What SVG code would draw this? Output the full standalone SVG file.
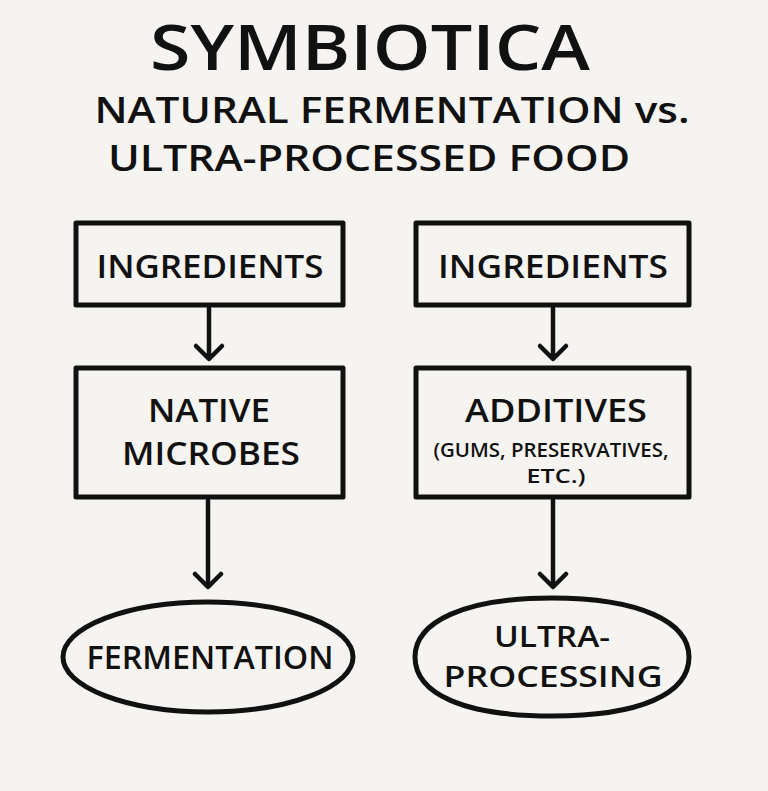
<svg xmlns="http://www.w3.org/2000/svg" width="768" height="791" viewBox="0 0 768 791">
<style>
.box{fill:none;stroke:#111;stroke-width:5;stroke-linejoin:round}
.con{fill:none;stroke:#111;stroke-width:4.5;stroke-linecap:round;stroke-linejoin:round}
text{font-family:"Open Sans","Liberation Sans",sans-serif;font-weight:600;fill:#111;text-anchor:middle}
.t1{font-size:33px}
.t3{font-size:29px}
.t2{font-size:19px}
</style>
<rect width="768" height="791" fill="#f6f4f0"/>
<g id="title">
<text x="370" y="70" font-size="64" font-weight="bold" textLength="440" lengthAdjust="spacingAndGlyphs">SYMBIOTICA</text>
<text x="392" y="123" font-size="36" textLength="595" lengthAdjust="spacingAndGlyphs">NATURAL FERMENTATION vs.</text>
<text x="369" y="171" font-size="36" textLength="522" lengthAdjust="spacingAndGlyphs">ULTRA-PROCESSED FOOD</text>
</g>
<g id="connectors">
<path class="con" d="M209 308V358M196 346L209 359L222 346"/>
<path class="con" d="M553 308V358M540 346L553 359L566 346"/>
<path class="con" d="M208 500V586M195 574L208 587L221 574"/>
<path class="con" d="M553 500V586M540 574L553 587L566 574"/>
</g>
<g id="ingredients-left">
<rect class="box" x="76" y="223" width="267" height="82"/>
<text class="t1" x="210" y="278" textLength="227" lengthAdjust="spacingAndGlyphs">INGREDIENTS</text>
</g>
<g id="ingredients-right">
<rect class="box" x="416" y="223" width="273" height="82"/>
<text class="t1" x="553" y="278" textLength="230" lengthAdjust="spacingAndGlyphs">INGREDIENTS</text>
</g>
<g id="native-microbes">
<rect class="box" x="76" y="368" width="267" height="129"/>
<text class="t1" x="209" y="422" textLength="122" lengthAdjust="spacingAndGlyphs">NATIVE</text>
<text class="t1" x="211" y="465" textLength="178" lengthAdjust="spacingAndGlyphs">MICROBES</text>
</g>
<g id="additives">
<rect class="box" x="416" y="368" width="273" height="129"/>
<text class="t1" x="556" y="422" textLength="182" lengthAdjust="spacingAndGlyphs">ADDITIVES</text>
<text class="t2" x="551" y="457" textLength="235" lengthAdjust="spacingAndGlyphs">(GUMS, PRESERVATIVES,</text>
<text class="t2" x="556" y="483" textLength="59" lengthAdjust="spacingAndGlyphs">ETC.)</text>
</g>
<g id="fermentation">
<ellipse class="box" cx="208" cy="657" rx="145" ry="55"/>
<text class="t1" x="210" y="669" textLength="247" lengthAdjust="spacingAndGlyphs">FERMENTATION</text>
</g>
<g id="ultra-processing">
<path class="box" d="M552 598C640 598 689 622 689 657C689 694 640 716 552 716C464 716 415 694 415 657C415 622 464 598 552 598Z"/>
<text class="t3" x="552" y="647" textLength="116" lengthAdjust="spacingAndGlyphs">ULTRA-</text>
<text class="t3" x="553" y="687" textLength="219" lengthAdjust="spacingAndGlyphs">PROCESSING</text>
</g>
</svg>
